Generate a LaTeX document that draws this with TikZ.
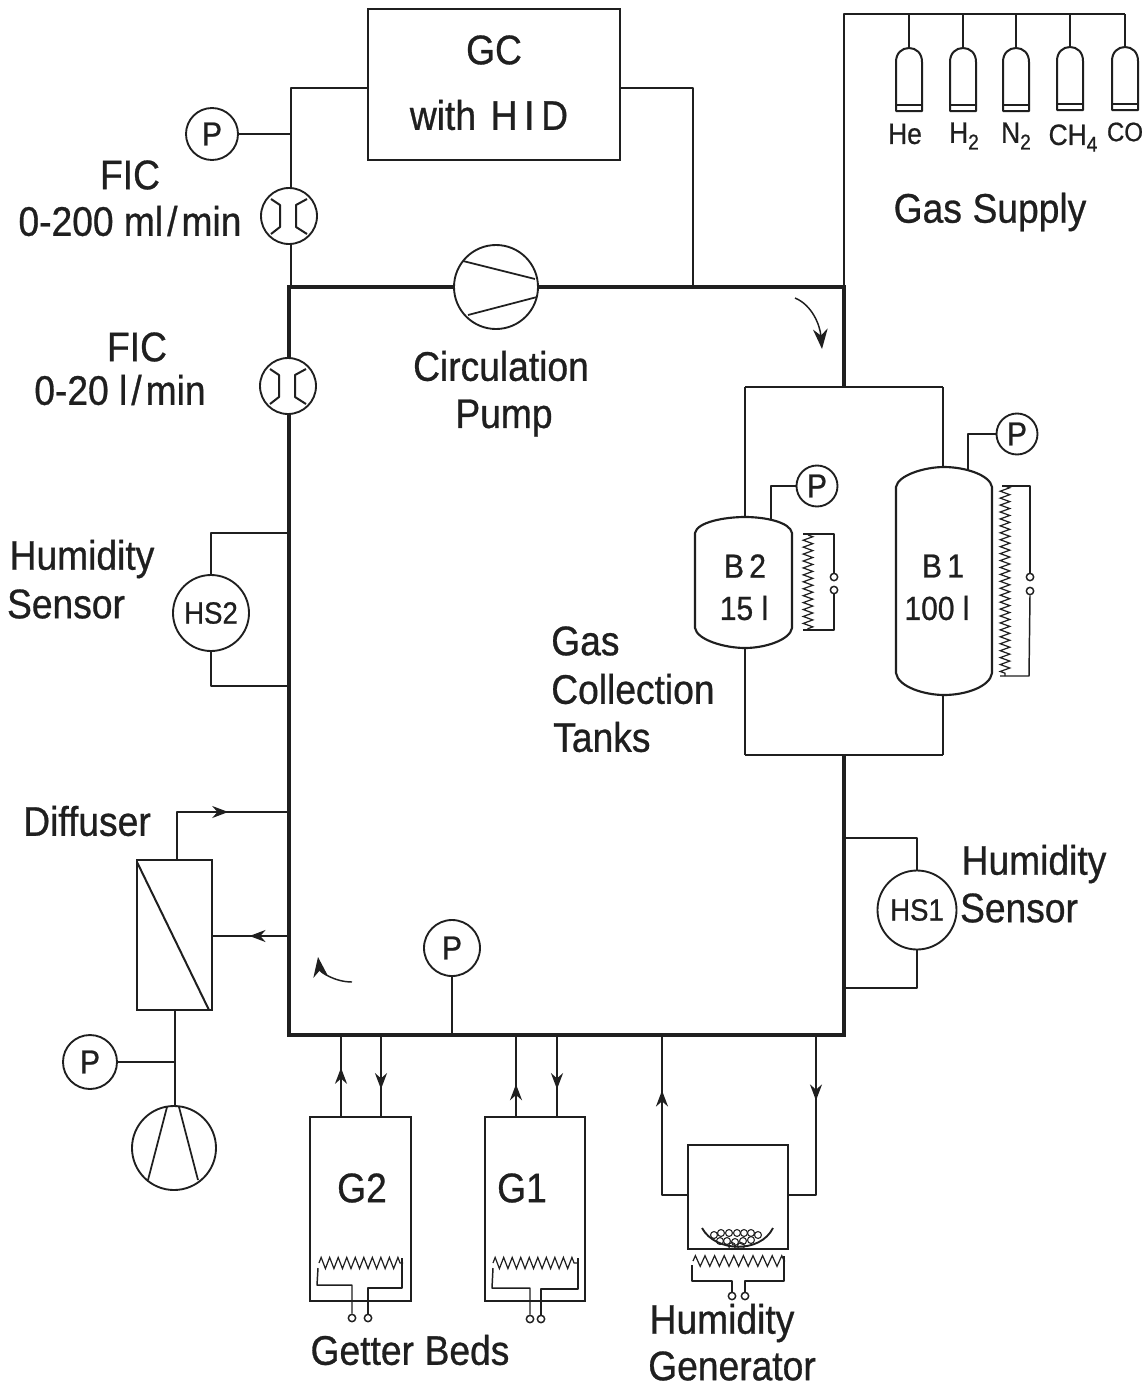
\documentclass[tikz,border=0pt]{standalone}
\usepackage{fontspec}
\setmainfont[FakeStretch=0.9,FakeBold=0.7]{Liberation Sans}
\usetikzlibrary{arrows.meta,decorations.pathmorphing,decorations.markings}
\definecolor{ink}{gray}{0.12}
\newcommand{\sbs}[1]{\raisebox{-5pt}{\fontsize{16}{16}\selectfont #1}}
\tikzset{
 wire/.style={draw=ink,line width=1.5pt,line join=round},
 thin wire/.style={draw=ink,line width=1.1pt,line join=round},
 loopline/.style={draw=ink,line width=2.8pt,line join=miter},
 lab/.style={inner sep=0,text=ink,font=\fontsize{31}{36}\selectfont},
 midlab/.style={inner sep=0,text=ink,font=\fontsize{25}{30}\selectfont},
 smalllab/.style={inner sep=0,text=ink,font=\fontsize{22}{26}\selectfont},
 gauge/.style={circle,draw=ink,line width=1.4pt,minimum size=#1*0.75pt,inner sep=0,text=ink,font=\fontsize{25}{28}\selectfont},
 gauge/.default=41,
 heater/.style={draw=ink,line width=0.9pt,decorate,decoration={zigzag,amplitude=3.6pt,segment length=5.2pt}},
 term/.style={circle,draw=ink,line width=1.1pt,fill=white,minimum size=5.5pt,inner sep=0},
 flowup/.style={postaction={decorate,decoration={markings,mark=at position #1 with {\arrow{Stealth[length=12pt,width=9pt]}}}}},
 curvearrow/.style={draw=ink,line width=1.1pt,-{Stealth[length=15pt,width=11pt]}},
 flowmeter/.pic={
  \node[circle,draw=ink,fill=white,line width=1.4pt,minimum size=42pt,inner sep=0] (-c) at (0,0) {};
  \draw[wire] (-18,-17) -- (-9,-11) -- (-9,11) -- (-18,18);
  \draw[wire] (18,-17) -- (7,-11) -- (7,11) -- (18,18);
  \draw[wire,line width=2.2pt] (-9,-9) -- (-9,9);
  \draw[wire,line width=2.2pt] (7,-9) -- (7,9);
 },
 cylinder/.pic={
  \draw[wire,fill=white] (-13,63) -- (-13,14) .. controls (-13,5) and (-7,0) .. (0,0) .. controls (7,0) and (13,5) .. (13,14) -- (13,63) -- cycle;
  \draw[wire] (-13,57) -- (13,57);
 },
}
\begin{document}
\begin{tikzpicture}[x=0.75pt,y=-0.75pt]
\useasboundingbox[fill=white] (0,0) rectangle (1145,1389);

% main loop corners
\coordinate (tl) at (289,287); \coordinate (tr) at (844,287);
\coordinate (bl) at (289,1035); \coordinate (br) at (844,1035);
\coordinate (splitT) at (844,387); \coordinate (splitB) at (844,755);

% GC
\node[draw=ink,line width=1.5pt,minimum width=252*0.75pt,minimum height=151*0.75pt,inner sep=0] (gc) at (494,84.5) {};
\node[lab] (gctxt) at (494,50) {GC};
\node[lab] (gctxt2) at (489,115) {with\kern 11pt H\kern 5pt I\kern 5pt D};

% circulation pump
\node[circle,draw=ink,line width=1.4pt,minimum size=63pt,inner sep=0] (cpump) at (496,287) {};
\draw[thin wire,line width=1.3pt] (463,261) -- (535,279);
\draw[thin wire,line width=1.3pt] (468,315) -- (537,297);

% main loop
\draw[loopline] (cpump.east) -- (tr) -- (splitT);
\draw[loopline] (cpump.west) -- (tl) -- (bl) -- (br) -- (splitB);

% GC bypass
\node[gauge=52] (p1) at (212,134) {P};
\coordinate (gcL) at (291,88); \coordinate (gcR) at (693,88);
\draw[wire] (gc.west |- gcL) -- (gcL) -- (gcL |- tl);
\draw[wire] (gc.east |- gcR) -- (gcR) -- (gcR |- tr);
\draw[wire] (p1.east) -- (gcL |- p1.east);
\pic (fm1) at (289,216) {flowmeter};
\pic (fm2) at (288,386) {flowmeter};

% gas supply
\coordinate (sup0) at (844,14); \coordinate (sup1) at (1125,14);
\draw[wire] (tr) -- (sup0) -- (sup1);
\foreach \cx/\nm/\ty in {909/a/48,963/b/48,1016/c/48,1070/d/47,1125/e/47}{
  \coordinate (cyl\nm) at (\cx,\ty);
  \pic at (cyl\nm) {cylinder};
  \draw[wire] (cyl\nm) -- (\cx,14);
}
\node[smalllab] (he) at (905,134) {He};
\node[smalllab] (h2) at (964,136) {H\sbs{2}};
\node[smalllab] (n2) at (1016,136) {N\sbs{2}};
\node[smalllab] (ch4) at (1073,138) {CH\sbs{4}};
\node[smalllab,font=\fontsize{20}{24}\selectfont] (co) at (1125,132) {CO};
\node[lab] (gs) at (990,212) {Gas\kern 8pt Supply};

% labels left
\node[lab] (f1) at (130,175) {FIC};
\node[lab] (f1b) at (130,221) {0-200 ml\kern 3pt/\kern 3pt min};
\node[lab] (f2) at (137,347) {FIC};
\node[lab] (f2b) at (120,390) {0-20 l\kern 3pt/\kern 3pt min};
\node[lab] (cp1) at (501,366) {Circulation};
\node[lab] (cp2) at (504,418) {Pump};
\node[lab] (hs2a) at (82,559) {Humidity};
\node[lab] (hs2b) at (66,604) {Sensor};
\node[lab,anchor=west] (gct1) at (551,641) {Gas};
\node[lab,anchor=west] (gct2) at (551,689) {Collection};
\node[lab,anchor=west] (gct3) at (553,737) {Tanks};
\node[lab] (hs1a) at (1034,864) {Humidity};
\node[lab] (hs1b) at (1019,908) {Sensor};
\node[lab] (dif) at (87,821) {Diffuser};
\node[lab] (gb) at (410,1350) {Getter\kern 8pt Beds};
\node[lab] (hg1) at (722,1323) {Humidity};
\node[lab] (hg2) at (732,1366) {Generator};

% curved flow arrows
\coordinate (ca1) at (795,298); \coordinate (ca2) at (822,349);
\draw[curvearrow] (ca1) .. controls (812,305) and (820,325) .. (ca2);
\coordinate (cb1) at (352,982); \coordinate (cb2) at (318,957);
\draw[curvearrow] (cb1) .. controls (335,982) and (320,972) .. (cb2);

% tanks
\coordinate (tL) at (745,387); \coordinate (tR) at (943,387);
\coordinate (uL) at (745,755); \coordinate (uR) at (943,755);
\draw[wire] (tL) -- (tR); \draw[wire] (uL) -- (uR);
\draw[wire] (tL) -- (745,518);
\draw[wire] (tR) -- (943,467);
\draw[wire] (745,648) -- (uL);
\draw[wire] (943,695) -- (uR);
% B2
\draw[wire,line width=1.6pt] (695,533) .. controls (697,522) and (725,517) .. (745,517) .. controls (765,517) and (790,522) .. (792,533) -- (792,628) .. controls (790,640) and (765,648) .. (745,648) .. controls (725,648) and (697,640) .. (695,628) -- cycle;
\node[midlab] (b2a) at (745,566) {B\kern 4pt 2};
\node[midlab] (b2b) at (744,608) {15 l};
\node[gauge] (p2) at (817,486) {P};
\coordinate (p2k) at (771,486);
\draw[wire] (p2.west) -- (p2k) -- (771,519);
\draw[heater] (808,535) -- (808,630);
\node[term] (t2a) at (834,577) {}; \node[term] (t2b) at (834,590) {};
\draw[thin wire] (803,534) -- (834,534) -- (t2a.north);
\draw[thin wire] (t2b.south) -- (834,630) -- (803,630);
% B1
\draw[wire,line width=1.6pt] (896,487) .. controls (898,475) and (925,467) .. (944,467) .. controls (965,467) and (990,475) .. (992,487) -- (992,673) .. controls (990,687) and (965,695) .. (944,695) .. controls (925,695) and (898,687) .. (896,673) -- cycle;
\node[midlab] (b1a) at (943,566) {B\kern 4pt 1};
\node[midlab] (b1b) at (937,608) {100 l};
\node[gauge] (p3) at (1017,434) {P};
\coordinate (p3k) at (968,434);
\draw[wire] (p3.west) -- (p3k) -- (968,470);
\draw[heater] (1005,486) -- (1005,676);
\node[term] (t3a) at (1030,577) {}; \node[term] (t3b) at (1030,591) {};
\draw[thin wire] (1002,486) -- (1030,486) -- (t3a.north);
\draw[thin wire] (t3b.south) -- (1029,676) -- (1000,676);

% humidity sensors
\node[gauge=79,font=\fontsize{23}{26}\selectfont] (hs1) at (917,910) {HS1};
\draw[wire] (844,838) -- (hs1.north |- 844,838) -- (hs1.north);
\draw[wire] (hs1.south) -- (hs1.south |- 844,988) -- (844,988);
\node[gauge=76,font=\fontsize{23}{26}\selectfont] (hs2) at (211,613) {HS2};
\draw[wire] (289,533) -- (hs2.north |- 289,533) -- (hs2.north);
\draw[wire] (hs2.south) -- (hs2.south |- 289,686) -- (289,686);

% diffuser
\node[draw=ink,line width=1.6pt,minimum width=75*0.75pt,minimum height=150*0.75pt,inner sep=0] (dbox) at (174.5,935) {};
\draw[wire] (137,862) -- (209,1010);
\coordinate (dk) at (177,812);
\draw[thin wire,flowup=0.62] (177,860) -- (dk) -- (289,812);
\draw[wire,flowup=0.52] (289,936) -- (dbox.east |- 289,936);
\node[gauge=54] (p4) at (90,1062) {P};
\node[circle,draw=ink,line width=1.4pt,minimum size=63pt,inner sep=0] (vpump) at (174,1148) {};
\draw[wire] (dbox.south -| 175,1010) -- (vpump.north -| 175,1106);
\draw[wire] (p4.east) -- (175,1062);
\draw[wire,line width=1.3pt] (167,1107) -- (148,1180);
\draw[wire,line width=1.3pt] (179,1107) -- (198,1180);

% P bottom
\node[gauge=56] (p5) at (452,948) {P};
\draw[wire] (p5.south) -- (p5.south |- bl);

% getter beds
\node[draw=ink,line width=1.6pt,minimum width=101*0.75pt,minimum height=184*0.75pt,inner sep=0] (g2) at (360.5,1209) {};
\node[draw=ink,line width=1.6pt,minimum width=100*0.75pt,minimum height=184*0.75pt,inner sep=0] (g1) at (535,1209) {};
\node[lab] (g2t) at (362,1188) {G2};
\node[lab] (g1t) at (522,1188) {G1};
\draw[wire,flowup=0.6] (341,1117) -- (341,1035);
\draw[wire,flowup=0.66] (381,1035) -- (381,1117);
\draw[wire,flowup=0.4] (516,1117) -- (516,1035);
\draw[wire,flowup=0.66] (557,1035) -- (557,1117);
% heater G2
\draw[heater,decoration={amplitude=4.2pt,segment length=6.4pt}] (319,1263) -- (403,1263);
\node[term] (t4a) at (352,1318) {}; \node[term] (t4b) at (368,1318) {};
\draw[thin wire] (318,1268) -- (317,1285) -- (352,1285) -- (t4a.north);
\draw[thin wire] (402,1258) -- (402,1288) -- (368,1288) -- (t4b.north);
% heater G1
\draw[heater,decoration={amplitude=4.2pt,segment length=6.4pt}] (493,1263) -- (578,1263);
\node[term] (t5a) at (530,1319) {}; \node[term] (t5b) at (541,1319) {};
\draw[thin wire] (493,1268) -- (492,1288) -- (530,1288) -- (t5a.north);
\draw[thin wire] (578,1258) -- (578,1289) -- (541,1289) -- (t5b.north);

% humidity generator
\node[draw=ink,line width=1.6pt,minimum width=100*0.75pt,minimum height=104*0.75pt,inner sep=0] (hg) at (738,1197) {};
\coordinate (hgL) at (662,1195); \coordinate (hgR) at (816,1195);
\draw[wire,flowup=0.7] (hg.west |- hgL) -- (hgL) -- (662,1035);
\draw[wire,flowup=0.35] (816,1035) -- (hgR) -- (hg.east |- hgR);
\draw[wire,line width=1.4pt] (702,1228) .. controls (715,1252) and (760,1254) .. (773,1228);
\foreach \bx/\by in {714/1235,721/1233,729/1233,737/1233,744/1233,751/1233,758/1235,720/1241,727/1241,735/1242,743/1241,751/1240,732/1246,741/1246}
  \draw[ink,line width=0.8pt] (\bx,\by) circle (2.6pt);
\draw[heater,decoration={amplitude=4pt,segment length=7.2pt}] (693,1261) -- (785,1261);
\node[term] (t6a) at (732,1296) {}; \node[term] (t6b) at (745,1296) {};
\draw[thin wire] (692,1265) -- (692,1281) -- (732,1281) -- (t6a.north);
\draw[thin wire] (784,1256) -- (784,1281) -- (745,1281) -- (t6b.north);
\end{tikzpicture}
\end{document}
